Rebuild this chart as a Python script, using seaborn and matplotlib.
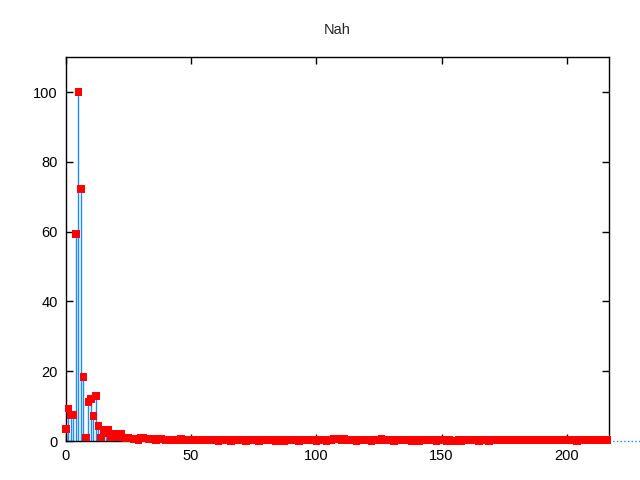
import matplotlib
matplotlib.use('Agg')
import matplotlib.pyplot as plt
import seaborn as sns
import numpy as np
import pandas as pd

# values (index 0..216)
head = [3.4, 9.4, 7.4, 7.4, 59.3, 100.0, 72.2, 18.3, 1.0, 11.2,
        12.0, 7.2, 12.9, 4.3, 1.0, 2.4, 3.3, 3.2, 1.2, 1.5,
        2.0, 1.2, 2.0, 1.0, 0.8, 0.9, 0.7, 0.6, 0.5, 0.4,
        1.0, 0.9, 0.7, 0.6, 0.5, 0.6, 0.3, 0.8, 0.7, 0.5,
        0.4, 0.2, 0.3, 0.5, 0.4, 0.2, 0.6, 0.4, 0.3, 0.2]
tail = [0.5, 0.3, 0.2, 0.4, 0.3, 0.5, 0.2, 0.3, 0.4, 0.2,
        0.3, 0.1, 0.2, 0.4, 0.3, 0.2, 0.1, 0.3, 0.4, 0.2,
        0.3, 0.2, 0.1, 0.3, 0.2, 0.4, 0.3, 0.1, 0.2, 0.3,
        0.2, 0.4, 0.3, 0.2, 0.1, 0.3, 0.2, 0.0, 0.3, 0.2,
        0.4, 0.2, 0.3, 0.1, 0.2, 0.3, 0.2, 0.4, 0.2, 0.3,
        0.1, 0.2, 0.3, 0.2, 0.1, 0.3, 0.2, 0.6, 0.5, 0.7,
        0.4, 0.6, 0.3, 0.2, 0.3, 0.2, 0.1, 0.3, 0.2, 0.4,
        0.2, 0.3, 0.1, 0.2, 0.3, 0.5, 0.6, 0.4, 0.3, 0.2,
        0.3, 0.1, 0.2, 0.3, 0.2, 0.4, 0.3, 0.2, 0.1, 0.3,
        0.2, 0.1, 0.3, 0.2, 0.4, 0.3, 0.2, 0.3, 0.1, 0.2,
        0.3, 0.2, 0.1, 0.3, 0.2, 0.0, 0.2, 0.3, 0.1, 0.2,
        0.3, 0.2, 0.4, 0.2, 0.3, 0.1, 0.2, 0.3, 0.2, 0.1,
        0.3, 0.5, 0.4, 0.3, 0.2, 0.4, 0.3, 0.5, 0.4, 0.2,
        0.3, 0.2, 0.4, 0.3, 0.5, 0.4, 0.3, 0.2, 0.3, 0.4,
        0.2, 0.3, 0.4, 0.5, 0.3, 0.2, 0.4, 0.3, 0.2, 0.5,
        0.4, 0.2, 0.3, 0.4, 0.1, 0.3, 0.4, 0.2, 0.3, 0.5,
        0.3, 0.2, 0.4, 0.3, 0.2, 0.4, 0.3]
values = head + tail
idx = list(range(len(values)))

df = pd.DataFrame({'x': idx, 'y': values})

sns.set_style('ticks')
plt.rcParams['font.family'] = ['Liberation Sans', 'DejaVu Sans']

fig = plt.figure(figsize=(6.4, 4.8), dpi=100)
ax = fig.add_axes([0.103, 0.081, 0.849, 0.8])

# impulses
ax.vlines(df['x'], 0, df['y'], color='#1e8cff', linewidth=1.0, zorder=2)
sns.scatterplot(data=df, x='x', y='y', marker='s', s=30, color='#ff0000',
                edgecolor='none', linewidth=0, ax=ax, zorder=3, clip_on=False)
# the dotted zero line running past the right border
ax.axhline(0, xmin=1.0, xmax=1.06, color='#1e8cff', linestyle=':',
           linewidth=1.0, clip_on=False)

ax.set_xlim(0, 217)
ax.set_ylim(0, 110)
ax.set_xticks([0, 50, 100, 150, 200])
ax.set_yticks([0, 20, 40, 60, 80, 100])
ax.set_xlabel('')
ax.set_ylabel('')
ax.set_title('Nah', fontsize=10.5, pad=17)

for s in ax.spines.values():
    s.set_visible(True)
    s.set_linewidth(1.0)
    s.set_color('black')
ax.tick_params(direction='in', length=5, width=1, top=True, right=True,
               labelsize=10.5, colors='black', pad=6)

fig.savefig('out.png', dpi=100)
